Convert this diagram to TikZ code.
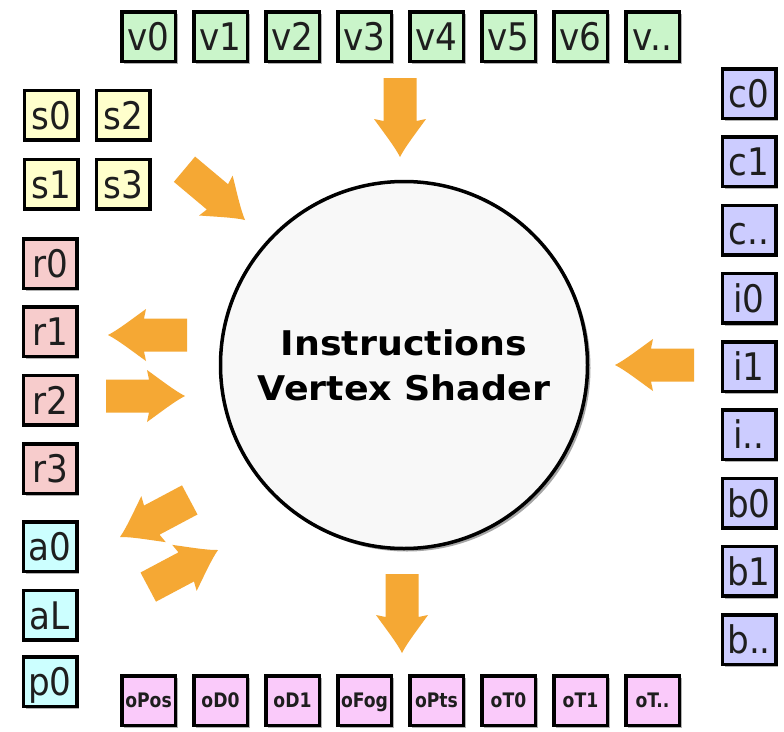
\documentclass[tikz,border=0pt]{standalone}
\usepackage{fontspec}
\setmainfont{DejaVu Sans}
\newfontfamily\regfont{DejaVu Sans}[FakeStretch=0.9]
\newfontfamily\outfont{DejaVu Sans}[FakeStretch=0.86]
\newfontfamily\headfont{DejaVu Sans}[FakeStretch=1.07]
\usetikzlibrary{shadows}

\definecolor{txt}{RGB}{30,30,30}
\definecolor{vgreen}{RGB}{202,245,202}
\definecolor{syellow}{RGB}{255,255,204}
\definecolor{rpink}{RGB}{247,204,204}
\definecolor{acyan}{RGB}{204,255,255}
\definecolor{clav}{RGB}{204,204,255}
\definecolor{omag}{RGB}{250,202,250}
\definecolor{corefill}{RGB}{248,248,248}
\definecolor{arrowc}{RGB}{245,168,52}

\tikzset{
  softshadow/.style={drop shadow={shadow xshift=2.5pt, shadow yshift=-2.5pt, fill=black, opacity=0.3}},
  reg/.style={draw=black, line width=3.5pt, minimum width=53.5pt, minimum height=49.5pt,
    inner sep=0pt, text=txt, text height=28pt, text depth=0pt,
    font=\regfont\fontsize{38}{38}\selectfont, softshadow},
  outreg/.style={reg, font=\outfont\bfseries\fontsize{20}{20}\selectfont,
    text height=14.5pt, fill=omag},
  core/.style={circle, draw=black, line width=3.5pt, fill=corefill, minimum size=367pt,
    inner sep=0pt, align=center, text=black,
    font=\headfont\bfseries\fontsize{34}{45}\selectfont,
    drop shadow={shadow xshift=3pt, shadow yshift=-3pt, fill=black, opacity=0.35}},
  % block arrow with swept head; tip at the origin, pointing along +x
  blockarrow/.pic={
    \fill[arrowc] (-79,-16.5) -- (-79,16.5) -- (-36,16.5) -- (-38,26)
      .. controls (-24,16) and (-10,5) .. (0,0)
      .. controls (-10,-5) and (-24,-16) .. (-38,-26) -- (-36,-16.5) -- cycle;
  }
}

\begin{document}
\begin{tikzpicture}[x=1pt, y=-1pt]
\fill[white] (0,0) rectangle (784,731);
\useasboundingbox (0,0) rectangle (784,731);

% input vertex registers
\foreach \t [count=\k from 0] in {v0,v1,v2,v3,v4,v5,v6,v..}
  \node[reg, fill=vgreen] (v\k) at (148.5+72*\k, 36.5) {\t};

% sampler registers
\node[reg, fill=syellow] (s0) at (51,115) {s0};
\node[reg, fill=syellow] (s2) at (123,115) {s2};
\node[reg, fill=syellow] (s1) at (51,184) {s1};
\node[reg, fill=syellow] (s3) at (123,184) {s3};

% temporary registers
\node[reg, fill=rpink] (r0) at (50,263.5) {r0};
\node[reg, fill=rpink] (r1) at (50,331.5) {r1};
\node[reg, fill=rpink] (r2) at (50,400) {r2};
\node[reg, fill=rpink] (r3) at (50,468.5) {r3};

% address and predicate registers
\node[reg, fill=acyan] (a0) at (50,546.5) {a0};
\node[reg, fill=acyan] (aL) at (50,615) {aL};
\node[reg, fill=acyan] (p0) at (50,681.5) {p0};

% constant registers
\foreach \t [count=\k from 0] in {c0,c1,c..,i0,i1,i..,b0,b1,b..}
  \node[reg, fill=clav] (c\k) at (749, 93.5+68.25*\k) {\t};

% output registers
\foreach \t [count=\k from 0] in {oPos,oD0,oD1,oFog,oPts,oT0,oT1,oT..}
  \node[outreg] (o\k) at (148.5+72*\k, 700.5) {\t};

% shader core
\node[core] (core) at (404,365) {Instructions\\Vertex Shader};

% data flow arrows (tips)
\coordinate (tipv) at (400,157);
\coordinate (tips) at (245,220);
\coordinate (tipr1) at (108,335);
\coordinate (tipr2) at (185,396);
\coordinate (tipa0) at (120,537);
\coordinate (tipa1) at (218,550);
\coordinate (tipc) at (615,365);
\coordinate (tipo) at (402,653);

\pic[rotate=-90] at (tipv) {blockarrow};
\pic[rotate=-40] at (tips) {blockarrow};
\pic[rotate=180] at (tipr1) {blockarrow};
\pic[rotate=0] at (tipr2) {blockarrow};
\pic[rotate=208] at (tipa0) {blockarrow};
\pic[rotate=28] at (tipa1) {blockarrow};
\pic[rotate=180] at (tipc) {blockarrow};
\pic[rotate=-90] at (tipo) {blockarrow};
\end{tikzpicture}
\end{document}
